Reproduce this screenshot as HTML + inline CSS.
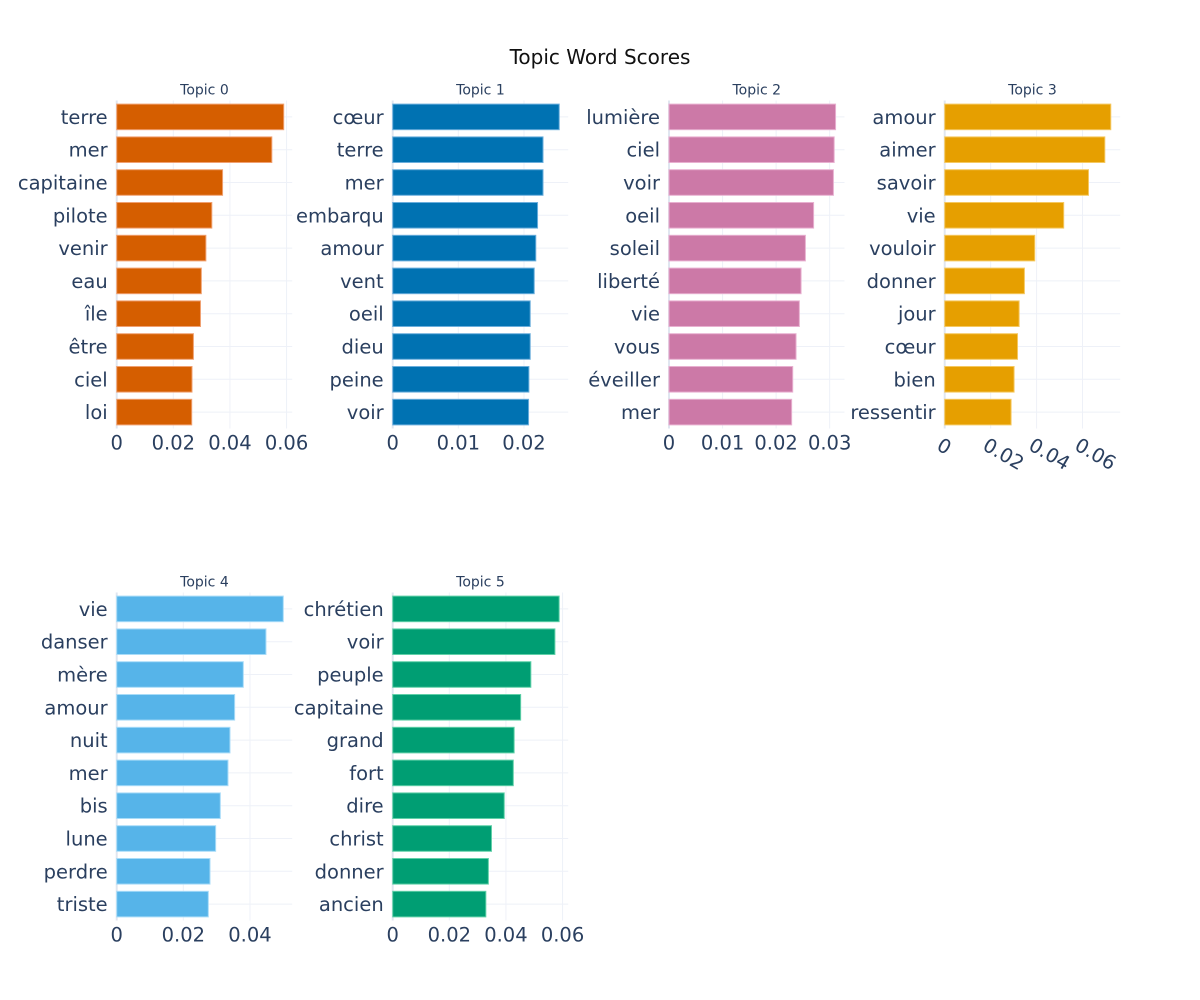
<!DOCTYPE html>
<html><head><meta charset="utf-8"><style>
body{margin:0;background:#fff;}
svg{display:block;font-family:"DejaVu Sans","Liberation Sans",sans-serif;}
</style></head><body>
<svg id="chart" width="1200" height="1000" viewBox="0 0 1200 1000">
<rect width="1200" height="1000" fill="#fff"/>
<text x="600" y="64" text-anchor="middle" font-size="20" fill="#111">Topic Word Scores</text>
</svg>
<script>
const topicTitles = ["Topic 0","Topic 1","Topic 2","Topic 3","Topic 4","Topic 5"];
const words0 = ["terre","mer","capitaine","pilote","venir","eau","île","être","ciel","loi"];
const scores0 = [0.059,0.0548,0.0374,0.0336,0.0315,0.0299,0.0296,0.0271,0.0266,0.0265];
const words1 = ["cœur","terre","mer","embarqu","amour","vent","oeil","dieu","peine","voir"];
const scores1 = [0.02537,0.0229,0.0229,0.02207,0.0218,0.02156,0.02095,0.02095,0.02075,0.0207];
const words2 = ["lumière","ciel","voir","oeil","soleil","liberté","vie","vous","éveiller","mer"];
const scores2 = [0.0311,0.03084,0.0307,0.0270,0.02547,0.02466,0.02434,0.02372,0.0231,0.0229];
const words3 = ["amour","aimer","savoir","vie","vouloir","donner","jour","cœur","bien","ressentir"];
const scores3 = [0.0723,0.0697,0.0626,0.0518,0.0392,0.0347,0.0324,0.0317,0.0302,0.0289];
const words4 = ["vie","danser","mère","amour","nuit","mer","bis","lune","perdre","triste"];
const scores4 = [0.0500,0.0448,0.0380,0.0354,0.0340,0.0334,0.0311,0.0297,0.0280,0.0275];
const words5 = ["chrétien","voir","peuple","capitaine","grand","fort","dire","christ","donner","ancien"];
const scores5 = [0.0588,0.0573,0.0488,0.0452,0.0429,0.0426,0.0394,0.0349,0.0338,0.0329];
const ticks0 = [0,0.02,0.04,0.06];
const ticks1 = [0,0.01,0.02];
const ticks2 = [0,0.01,0.02,0.03];
const ticks3 = [0,0.02,0.04,0.06];
const ticks4 = [0,0.02,0.04];
const ticks5 = [0,0.02,0.04,0.06];
const tickLabels0 = ["0","0.02","0.04","0.06"];
const tickLabels1 = ["0","0.01","0.02"];
const tickLabels2 = ["0","0.01","0.02","0.03"];
const tickLabels3 = ["0","0.02","0.04","0.06"];
const tickLabels4 = ["0","0.02","0.04"];
const tickLabels5 = ["0","0.02","0.04","0.06"];
const xMax = [0.062,0.02674,0.03277,0.0764,0.05268,0.062];

const colors=["#D55E00","#0072B2","#CC79A7","#E69F00","#56B4E9","#009E73"];
const borders=["#f0a070","#6aaedc","#e8b0d0","#f5c860","#a8dcf8","#60d0a8"];
const words=[words0,words1,words2,words3,words4,words5];
const scores=[scores0,scores1,scores2,scores3,scores4,scores5];
const ticks=[ticks0,ticks1,ticks2,ticks3,ticks4,ticks5];
const tlabels=[tickLabels0,tickLabels1,tickLabels2,tickLabels3,tickLabels4,tickLabels5];
const panelX=[116.7,392.7,669,944.7,116.7,392.7];
const panelY=[100.5,100.5,100.5,100.5,592.5,592.5];
const W=175.5,H=328;
const NS="http://www.w3.org/2000/svg";
const svg=document.getElementById('chart');
function mk(tag,attrs,parent){const e=document.createElementNS(NS,tag);for(const k in attrs)e.setAttribute(k,attrs[k]);(parent||svg).appendChild(e);return e;}
for(let p=0;p<6;p++){
  const x0=panelX[p],y0=panelY[p];
  const g=mk('g',{});
  
  
  const xs=v=>x0+v/xMax[p]*W;
  const n=words[p].length, step=H/n;
  const yc=i=>y0+step*(i+0.5);
  ticks[p].forEach((t,i)=>{
    const l=mk('line',{x1:xs(t),x2:xs(t),y1:y0,y2:y0+H,stroke:i==0?'#e0e6f0':'#eef1f8','stroke-width':i==0?2:1},g);
    
    
  });
  for(let i=0;i<n;i++){
    const l=mk('line',{x1:x0,x2:x0+W,y1:yc(i),y2:yc(i),stroke:'#eef1f8','stroke-width':1},g);
    
    
  }
  const tt=mk('text',{x:x0+W/2,y:y0-6,'text-anchor':'middle','font-size':14,fill:'#2a3f5f'},g);
  tt.textContent=topicTitles[p];
  
  
  for(let i=0;i<n;i++){
    const bh=step*0.78;
    const r=mk('rect',{x:x0,y:yc(i)-bh/2,width:xs(scores[p][i])-x0,height:bh,fill:colors[p],stroke:borders[p],'stroke-width':1},g);
    
    
    const lb=mk('text',{x:x0-9,y:yc(i)+7,'text-anchor':'end','font-size':19.5,fill:'#2a3f5f'},g);
    lb.textContent=words[p][i];
    
    
  }
  ticks[p].forEach((t,i)=>{
    let tl;
    if(p===3){
      tl=mk('text',{x:0,y:0,'text-anchor':'start','font-size':19.5,fill:'#2a3f5f',transform:`translate(${xs(t)-2},${y0+H+8}) rotate(30)`,'dominant-baseline':'hanging'},g);
    } else {
      tl=mk('text',{x:xs(t),y:y0+H+21,'text-anchor':'middle','font-size':19.5,fill:'#2a3f5f'},g);
    }
    tl.textContent=tlabels[p][i];
    
    
  });
}
</script>
</body></html>
